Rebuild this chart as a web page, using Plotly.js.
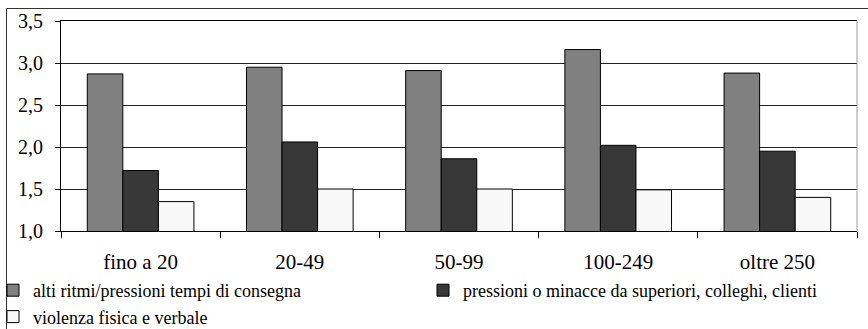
<!DOCTYPE html>
<html>
<head>
<meta charset="utf-8">
<script src="https://cdn.plot.ly/plotly-3.0.1.min.js"></script>
<style>html,body{margin:0;padding:0;background:#fff;}#chart{width:868px;height:329px;}</style>
</head>
<body>
<div id="chart"></div>
<script>
const categories = ["fino a 20", "20-49", "50-99", "100-249", "oltre 250"];
const seriesNames = [
  "alti ritmi/pressioni tempi di consegna",
  "pressioni o minacce da superiori, colleghi, clienti",
  "violenza fisica e verbale"
];
const altiRitmi = [2.87, 2.95, 2.91, 3.16, 2.88];
const pressioniMinacce = [1.72, 2.06, 1.86, 2.02, 1.95];
const violenza = [1.35, 1.50, 1.50, 1.49, 1.40];
const yTicks = [1.0, 1.5, 2.0, 2.5, 3.0, 3.5];

const colors = ["#808080", "#383838", "#f8f8f8"];
const values = [altiRitmi, pressioniMinacce, violenza];
const FONT = "Liberation Serif";

const traces = values.map((v, i) => ({
  type: "bar",
  name: seriesNames[i],
  x: categories,
  y: v,
  base: 0,
  marker: {color: colors[i], line: {color: "#000", width: 1}},
  hoverinfo: "skip"
}));

const L = 61, R = 857, T = 21, B = 231;
const W = R - L, H = B - T;
const px = p => (p - L) / W;
const py = p => (B - p) / H;

const layout = {
  width: 868, height: 329,
  margin: {l: L, r: 868 - R, t: T, b: 329 - B, pad: 0, autoexpand: false},
  paper_bgcolor: "#fff",
  plot_bgcolor: "#fff",
  separators: ",.",
  font: {family: FONT, color: "#000", size: 18},
  barmode: "group",
  bargap: 0.33,
  bargroupgap: 0,
  showlegend: true,
  legend: {
    orientation: "h",
    x: px(-7), xanchor: "left",
    y: py(272), yanchor: "top",
    font: {family: FONT, size: 18, color: "#000"},
    entrywidth: 385,
    traceorder: "normal",
    itemclick: false,
    tracegroupgap: 0,
    bgcolor: "rgba(0,0,0,0)"
  },
  xaxis: {
    type: "category",
    showline: true, linecolor: "#000", linewidth: 1,
    mirror: true,
    ticks: "outside", tickson: "boundaries", ticklen: 6, tickcolor: "#000", tickwidth: 1,
    showgrid: false,
    tickfont: {family: FONT, size: 21, color: "#000"},
    ticklabelstandoff: 12,
    fixedrange: true
  },
  yaxis: {
    range: [1, 3.5],
    tickvals: yTicks,
    tickformat: ".1f",
    showline: true, linecolor: "#000", linewidth: 1,
    ticks: "outside", ticklen: 5, tickcolor: "#000", tickwidth: 1,
    showgrid: true, gridcolor: "#222", gridwidth: 1,
    zeroline: false,
    tickfont: {family: FONT, size: 20, color: "#000"},
    ticklabelstandoff: 8,
    fixedrange: true
  },
  shapes: [
    {type: "line", xref: "paper", yref: "paper", x0: 1, x1: 1, y0: 0, y1: 1,
     line: {color: "#999", width: 1}},
    {type: "rect", xref: "paper", yref: "paper",
     x0: px(6.5), x1: px(875), y0: py(340), y1: py(8.5),
     line: {color: "#333", width: 1}, fillcolor: "rgba(0,0,0,0)", layer: "below"}
  ]
};

Plotly.newPlot("chart", traces, layout, {staticPlot: true, displayModeBar: false});
</script>
</body>
</html>
